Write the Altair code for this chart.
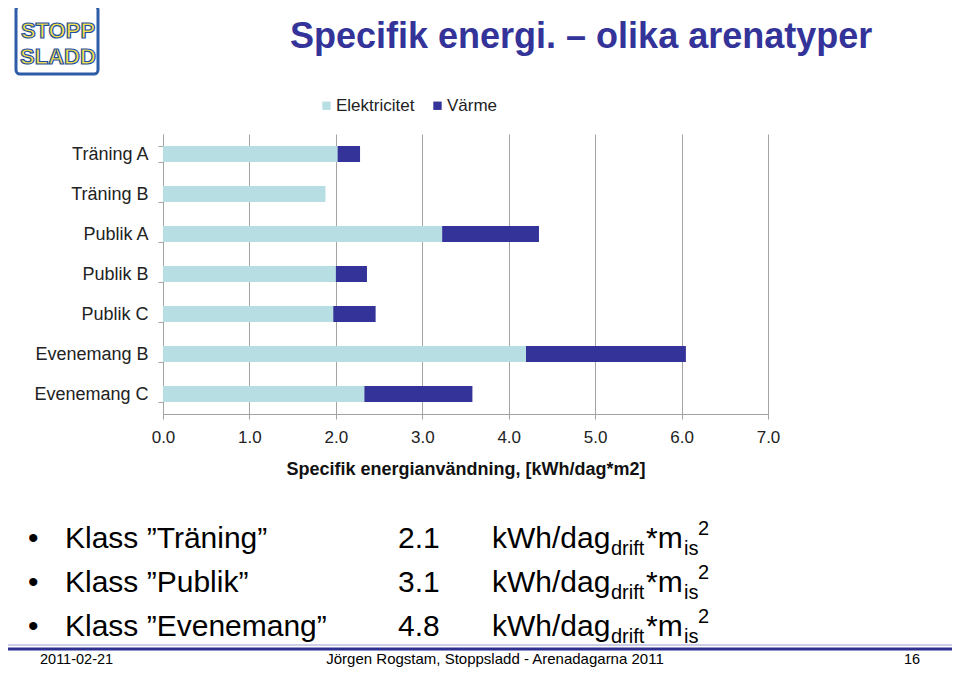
import altair as alt
import pandas as pd

# ---------------- data ----------------
categories = ["Träning A", "Träning B", "Publik A", "Publik B", "Publik C", "Evenemang B", "Evenemang C"]
elektricitet = [2.02, 1.88, 3.23, 2.00, 1.97, 4.20, 2.33]
varme = [0.26, 0.00, 1.12, 0.36, 0.49, 1.85, 1.25]
series = ["Elektricitet", "Värme"]
x_ticks = [0, 1, 2, 3, 4, 5, 6, 7]
x_title = "Specifik energianvändning, [kWh/dag*m2]"
slide_title = "Specifik energi. – olika arenatyper"
klass_names = ["Klass ”Träning”", "Klass ”Publik”", "Klass ”Evenemang”"]
klass_values = ["2.1", "3.1", "4.8"]
footer_date = "2011-02-21"
footer_text = "Jörgen Rogstam,  Stoppsladd - Arenadagarna 2011"
page_no = "16"

rows = []
for c, e, v in zip(categories, elektricitet, varme):
    rows.append({"category": c, "series": series[0], "value": e, "ord": 0})
    rows.append({"category": c, "series": series[1], "value": v, "ord": 1})
df = pd.DataFrame(rows)

FONT = "Liberation Sans, Arial, sans-serif"
GRID = "#a3a3a3"
OX, OY = 163, 134  # plot origin in page pixels


def px(x):
    return x - OX


def py(y):
    return y - OY


def label(text, x, y, size, color="#000000", weight="normal", align="left", **kw):
    return alt.Chart(pd.DataFrame({"t": [text]})).mark_text(
        align=align, baseline="alphabetic", fontSize=size, fontWeight=weight,
        color=color, font=FONT, **kw
    ).encode(x=alt.value(px(x)), y=alt.value(py(y)), text="t:N")


bars = alt.Chart(df).mark_bar().encode(
    x=alt.X(
        "value:Q", stack="zero",
        scale=alt.Scale(domain=[0, 7], nice=False, zero=True),
        axis=alt.Axis(
            values=x_ticks, format=".1f", title=x_title, grid=True, gridColor=GRID,
            domainColor=GRID, tickColor=GRID, tickSize=5, labelFontSize=17,
            labelColor="#222222", labelPadding=10, labelFlush=False, labelFont=FONT,
            titleFontSize=18, titleFontWeight="bold", titlePadding=15,
            titleColor="#111111", titleFont=FONT,
        ),
    ),
    y=alt.Y(
        "category:N", sort=categories,
        scale=alt.Scale(paddingInner=0.6, paddingOuter=0.3),
        axis=alt.Axis(
            title=None, tickBand="extent", grid=False, domainColor=GRID,
            tickColor=GRID, tickSize=5, labelFontSize=18, labelColor="#222222",
            labelPadding=10, labelFont=FONT,
        ),
    ),
    color=alt.Color(
        "series:N",
        scale=alt.Scale(domain=series, range=["#B7DEE2", "#333399"]),
        legend=alt.Legend(
            orient="none", legendX=155, legendY=-37, direction="horizontal",
            title=None, symbolType="square", symbolSize=70, symbolStrokeWidth=0,
            labelFontSize=17, labelColor="#222222", labelOffset=1,
            columnPadding=14, padding=0, labelFont=FONT,
        ),
    ),
    order=alt.Order("ord:Q"),
)

layers = [bars]

# slide title
layers.append(label(slide_title, 290, 48, 36, color="#333399", weight="bold"))

# logo approximation
logo_box = alt.Chart(pd.DataFrame({"a": [0]})).mark_rect(
    fill="#ffffff", stroke="#2D5DA8", strokeWidth=3, cornerRadius=4
).encode(x=alt.value(px(16)), x2=alt.value(px(98)), y=alt.value(py(6)), y2=alt.value(py(74)))
layers.append(logo_box)
layers.append(label("STOPP", 58, 38, 22, color="#F4E04D", weight="bold", align="center",
                    stroke="#1F4FA0", strokeWidth=1.2))
layers.append(label("SLADD", 58, 64, 22, color="#F4E04D", weight="bold", align="center",
                    stroke="#1F4FA0", strokeWidth=1.2))

# bullets
baselines = [548, 592, 636]
for name, val, b in zip(klass_names, klass_values, baselines):
    layers.append(label("•", 28, b, 30))
    layers.append(label(name, 65, b, 30))
    layers.append(label(val, 398, b, 30))
    layers.append(label("kWh/dag", 492, b, 30))
    layers.append(label("drift", 611, b + 7, 20))
    layers.append(label("*m", 646, b, 30))
    layers.append(label("is", 684, b + 7, 20))
    layers.append(label("2", 698, b - 13, 20))

# footer lines
layers.append(alt.Chart(pd.DataFrame({"a": [0]})).mark_rule(color="#9C9CC8", strokeWidth=1).encode(
    x=alt.value(px(0)), x2=alt.value(px(960)), y=alt.value(py(645))))
layers.append(alt.Chart(pd.DataFrame({"a": [0]})).mark_rule(color="#2E3192", strokeWidth=3).encode(
    x=alt.value(px(0)), x2=alt.value(px(960)), y=alt.value(py(649))))

layers.append(label(footer_date, 40, 664, 14.5))
layers.append(label(footer_text, 495, 664, 15, align="center"))
layers.append(label(page_no, 912, 664, 14.5, align="center"))

chart = alt.layer(*layers).properties(
    width=605, height=280,
    autosize=alt.AutoSizeParams(type="none"),
    padding={"left": 155, "top": 126, "right": 184, "bottom": 253},
    background="#ffffff",
).configure_view(stroke=None)

chart.save("out.html", embed_options={"renderer": "svg", "actions": False})
